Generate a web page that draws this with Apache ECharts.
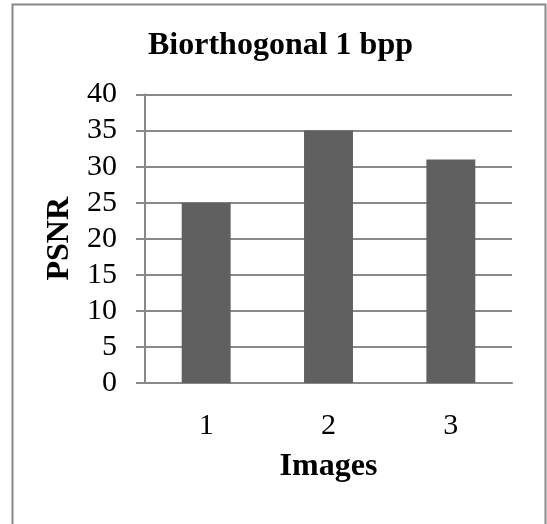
<!DOCTYPE html>
<html>
<head>
<meta charset="utf-8">
<script src="https://cdn.jsdelivr.net/npm/echarts@6/dist/echarts.min.js"></script>
<style>html,body{margin:0;padding:0;background:#fff}#c{width:547px;height:524px}</style>
</head>
<body>
<div id="c"></div>
<script>
const categories = ['1', '2', '3'];
const psnrValues = [25, 35, 31];
const yTicks = { min: 0, max: 40, interval: 5 };
const titleText = 'Biorthogonal 1 bpp';
const xName = 'Images';
const yName = 'PSNR';

const FONT = '"Liberation Serif", "Times New Roman", serif';
const chart = echarts.init(document.getElementById('c'), null, { renderer: 'canvas' });
chart.setOption({
  animation: false,
  backgroundColor: '#fff',
  title: {
    text: titleText,
    left: 148,
    top: 30,
    padding: 0,
    textStyle: { fontFamily: FONT, fontSize: 32, fontWeight: 'bold', color: '#000' }
  },
  graphic: [{
    type: 'polyline',
    shape: { points: [[12.5, 530], [12.5, 4.5], [545.5, 4.5], [545.5, 530]] },
    style: { stroke: '#888', lineWidth: 2, fill: null }
  }],
  grid: { left: 145, right: 35, top: 94.5, bottom: 141, containLabel: false },
  xAxis: {
    type: 'category',
    data: categories,
    name: xName,
    nameLocation: 'middle',
    nameGap: 68,
    nameTextStyle: { fontFamily: FONT, fontSize: 32, fontWeight: 'bold', color: '#000' },
    axisLine: { show: true, lineStyle: { color: '#888', width: 2 } },
    axisTick: { show: false },
    axisLabel: { fontFamily: FONT, fontSize: 30, color: '#000', margin: 28 },
    splitLine: { show: false }
  },
  yAxis: {
    type: 'value',
    min: yTicks.min,
    max: yTicks.max,
    interval: yTicks.interval,
    name: yName,
    nameLocation: 'middle',
    nameRotate: 90,
    nameGap: 68,
    nameTextStyle: { fontFamily: FONT, fontSize: 32, fontWeight: 'bold', color: '#000' },
    axisLine: { show: true, lineStyle: { color: '#888', width: 2 } },
    axisTick: { show: true, inside: false, length: 9, lineStyle: { color: '#888', width: 2 } },
    axisLabel: { fontFamily: FONT, fontSize: 30, color: '#000', margin: 28 },
    splitLine: { show: true, lineStyle: { color: '#888', width: 2 } }
  },
  series: [{
    type: 'bar',
    data: psnrValues,
    barWidth: '40%',
    itemStyle: { color: '#606060' }
  }]
});
</script>
</body>
</html>
